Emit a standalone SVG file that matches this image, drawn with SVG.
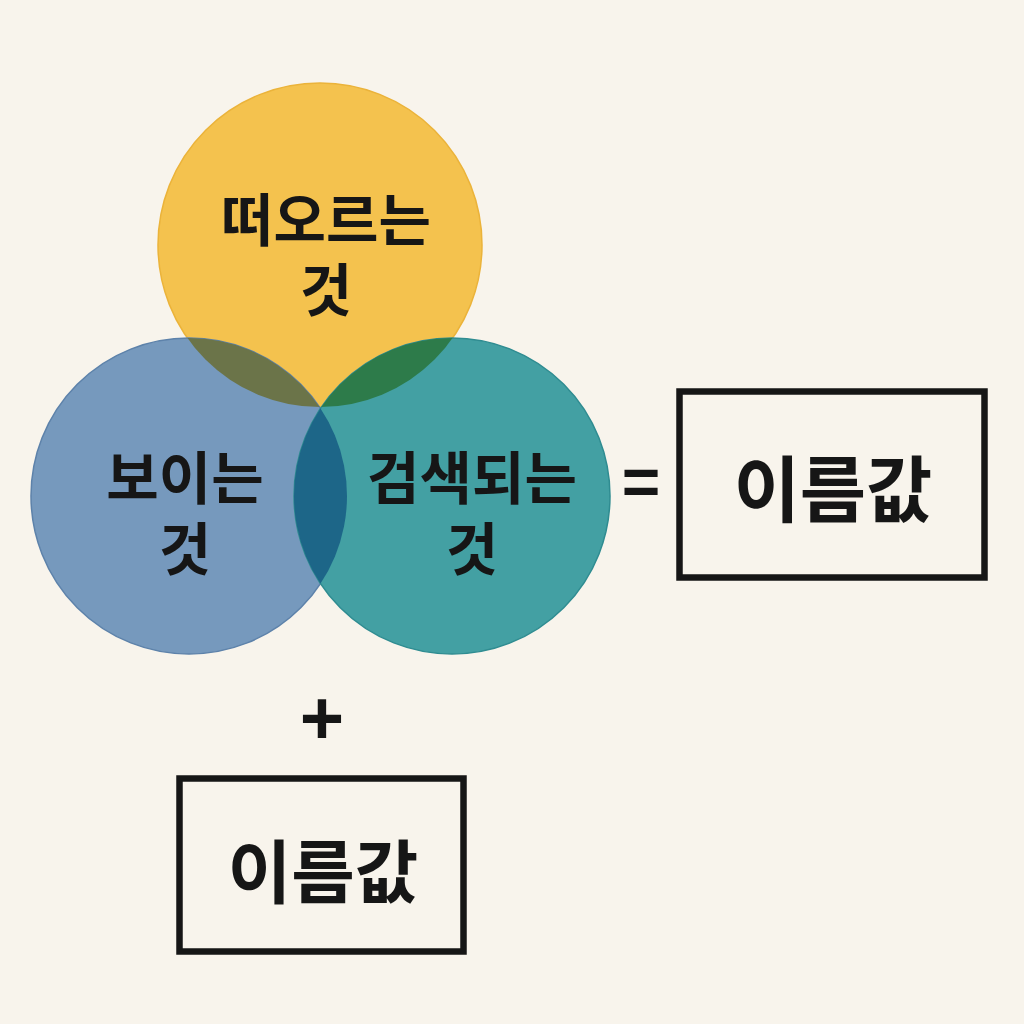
<svg xmlns="http://www.w3.org/2000/svg" width="1024" height="1024" viewBox="0 0 1024 1024">
<style>
.lbl{font-family:"Noto Sans CJK KR","Noto Sans",sans-serif;font-weight:700;fill:#161616;text-anchor:middle;dominant-baseline:central}
.c{font-size:57px}
.b{font-size:72px}
.box{fill:none;stroke:#161616;stroke-width:6.5}
.op{font-family:"Liberation Sans","DejaVu Sans",sans-serif;font-weight:700;fill:#161616;text-anchor:middle;dominant-baseline:central}
</style>
<defs>
<clipPath id="clipY"><circle cx="320" cy="245" r="162"/></clipPath>
<clipPath id="clipB"><circle cx="189" cy="496" r="158"/></clipPath>
</defs>
<rect width="1024" height="1024" fill="#F8F4EC"/>
<g id="venn">
<circle id="circle-yellow" cx="320" cy="245" r="162" fill="#F4C24E" stroke="#EBB33A" stroke-width="1.5"/>
<circle id="circle-blue" cx="189" cy="496" r="158" fill="#7699BD" stroke="#5D82AA" stroke-width="1.5"/>
<circle id="circle-teal" cx="452" cy="496" r="158" fill="#43A0A3" stroke="#2F8C91" stroke-width="1.5"/>
<circle cx="189" cy="496" r="158" fill="#6B7449" clip-path="url(#clipY)"/>
<circle cx="452" cy="496" r="158" fill="#2D7B4A" clip-path="url(#clipY)"/>
<circle cx="452" cy="496" r="158" fill="#1D6688" clip-path="url(#clipB)"/>
</g>
<g id="node-rising">
<text class="lbl c" x="326" y="216">떠오르는<tspan x="326" dy="70">것</tspan></text>
</g>
<g id="node-visible">
<text class="lbl c" x="185" y="474">보이는<tspan x="185" dy="71">것</tspan></text>
</g>
<g id="node-searched">
<text class="lbl c" x="472" y="474">검색되는<tspan x="472" dy="71">것</tspan></text>
</g>
<g id="connectors">
<text class="op" x="641" y="482" font-size="66">=</text>
<text class="op" x="322" y="717" font-size="76">+</text>
</g>
<g id="node-result">
<rect class="box" x="679.5" y="391.5" width="305" height="186"/>
<text class="lbl b" x="833" y="484">이름값</text>
</g>
<g id="node-name">
<rect class="box" x="179.5" y="778.5" width="284" height="173"/>
<text class="lbl" x="323" y="868" font-size="69">이름값</text>
</g>
</svg>
